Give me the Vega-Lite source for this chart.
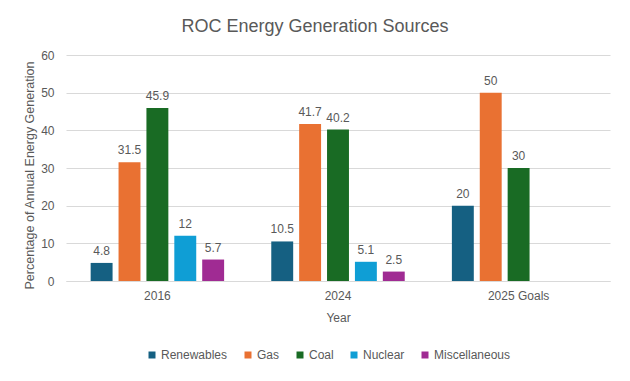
{
  "$schema": "https://vega.github.io/schema/vega-lite/v6.json",
  "width": 544,
  "height": 226,
  "autosize": {"type": "none"},
  "padding": {"left": 66, "top": 55, "right": 20, "bottom": 100},
  "background": "white",
  "title": {
    "text": "ROC Energy Generation Sources",
    "fontSize": 18,
    "font": "Liberation Sans",
    "fontWeight": "normal",
    "color": "#595959",
    "anchor": "middle",
    "dx": -23,
    "offset": 13
  },
  "config": {
    "font": "Liberation Sans",
    "view": {"stroke": null},
    "axis": {
      "labelFont": "Liberation Sans",
      "titleFont": "Liberation Sans",
      "labelColor": "#595959",
      "titleColor": "#595959",
      "labelFontSize": 12,
      "titleFontSize": 12,
      "titleFontWeight": "normal"
    }
  },
  "data": {
    "values": [
      {"Year": "2016", "Source": "Renewables", "Value": 4.8},
      {"Year": "2016", "Source": "Gas", "Value": 31.5},
      {"Year": "2016", "Source": "Coal", "Value": 45.9},
      {"Year": "2016", "Source": "Nuclear", "Value": 12},
      {"Year": "2016", "Source": "Miscellaneous", "Value": 5.7},
      {"Year": "2024", "Source": "Renewables", "Value": 10.5},
      {"Year": "2024", "Source": "Gas", "Value": 41.7},
      {"Year": "2024", "Source": "Coal", "Value": 40.2},
      {"Year": "2024", "Source": "Nuclear", "Value": 5.1},
      {"Year": "2024", "Source": "Miscellaneous", "Value": 2.5},
      {"Year": "2025 Goals", "Source": "Renewables", "Value": 20},
      {"Year": "2025 Goals", "Source": "Gas", "Value": 50},
      {"Year": "2025 Goals", "Source": "Coal", "Value": 30}
    ]
  },
  "encoding": {
    "x": {
      "field": "Year",
      "type": "nominal",
      "sort": ["2016", "2024", "2025 Goals"],
      "scale": {"paddingInner": 0.228, "paddingOuter": 0.12},
      "axis": {
        "title": "Year",
        "labelAngle": 0,
        "ticks": false,
        "domainColor": "#D9D9D9",
        "labelPadding": 9,
        "titlePadding": 11
      }
    },
    "xOffset": {
      "field": "Source",
      "type": "nominal",
      "sort": ["Renewables", "Gas", "Coal", "Nuclear", "Miscellaneous"],
      "scale": {
        "domain": ["Renewables", "Gas", "Coal", "Nuclear", "Miscellaneous"],
        "paddingInner": 0.214,
        "paddingOuter": 0.107
      }
    },
    "y": {
      "field": "Value",
      "type": "quantitative",
      "scale": {"domain": [0, 60]},
      "axis": {
        "title": "Percentage of Annual Energy Generation",
        "values": [0, 10, 20, 30, 40, 50, 60],
        "ticks": false,
        "domain": false,
        "gridColor": "#D9D9D9",
        "labelPadding": 12,
        "titleFontSize": 12.5,
        "titleX": -37,
        "titleY": 120,
        "titleAngle": -90,
        "titleAlign": "center",
        "titleBaseline": "middle"
      }
    }
  },
  "layer": [
    {
      "mark": {"type": "bar"},
      "encoding": {
        "color": {
          "field": "Source",
          "type": "nominal",
          "sort": ["Renewables", "Gas", "Coal", "Nuclear", "Miscellaneous"],
          "scale": {
            "domain": ["Renewables", "Gas", "Coal", "Nuclear", "Miscellaneous"],
            "range": ["#156082", "#E97132", "#196B24", "#0F9ED5", "#A02B93"]
          },
          "legend": {
            "title": null,
            "orient": "none",
            "direction": "horizontal",
            "legendX": 80,
            "legendY": 294,
            "symbolType": "square",
            "symbolSize": 49,
            "symbolStrokeWidth": 0,
            "labelFont": "Liberation Sans",
            "labelFontSize": 12,
            "labelColor": "#595959",
            "labelOffset": 3,
            "columnPadding": 14
          }
        }
      }
    },
    {
      "mark": {
        "type": "text",
        "baseline": "alphabetic",
        "dy": -8,
        "fontSize": 12,
        "font": "Liberation Sans",
        "color": "#595959"
      },
      "encoding": {
        "text": {"field": "Value", "type": "quantitative"}
      }
    }
  ]
}
